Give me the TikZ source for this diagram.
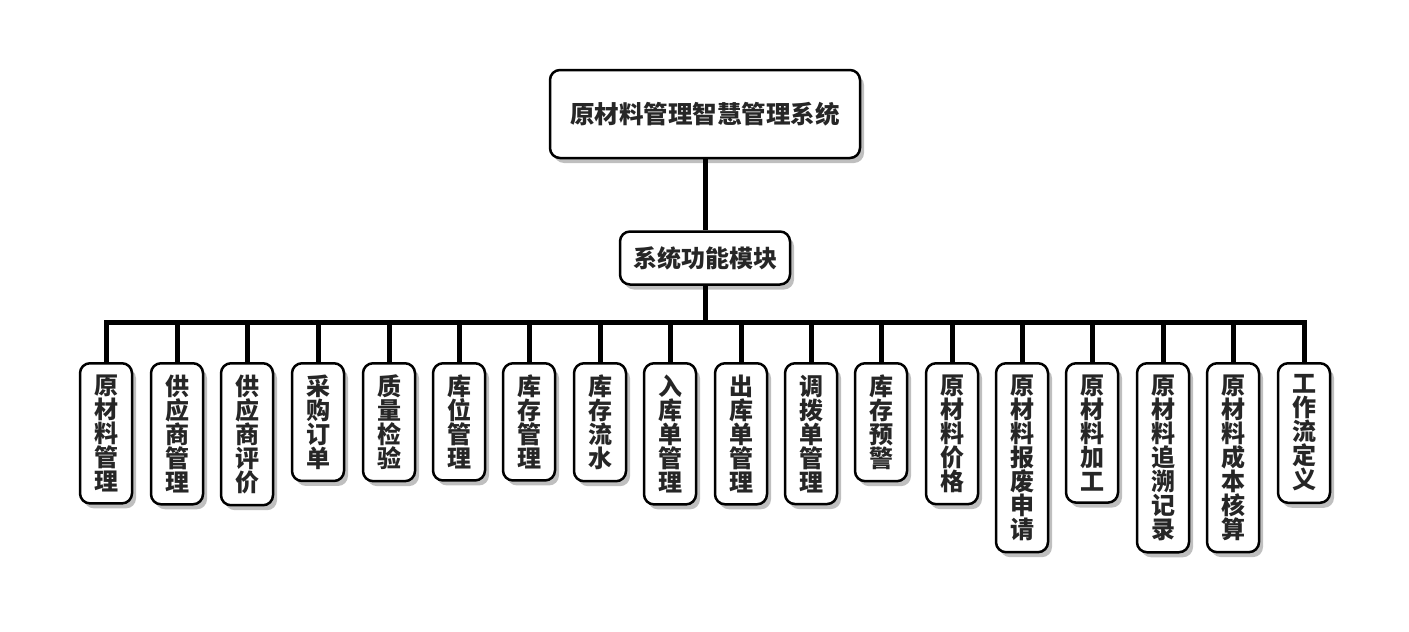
\documentclass[tikz,border=0pt]{standalone}
\usepackage{fontspec}
\newfontfamily\cjk{Noto Sans CJK SC}
\usetikzlibrary{positioning, calc, shadows}
\tikzset{
  rootbox/.style={rectangle, rounded corners=10pt, minimum width=310pt, minimum height=88pt, text centered, draw=black, line width=2.5pt, fill=white, font=\cjk\bfseries\fontsize{24.5}{28}\selectfont, text=black!85, drop shadow={shadow xshift=4pt, shadow yshift=-5pt, fill=black!50}},
  midbox/.style={rectangle, rounded corners=10pt, minimum width=170pt, minimum height=53pt, text centered, draw=black, line width=2.5pt, fill=white, font=\cjk\bfseries\fontsize{24}{28}\selectfont, text=black!85, drop shadow={shadow xshift=4pt, shadow yshift=-5pt, fill=black!50}},
  leaf/.style={rectangle, rounded corners=10pt, minimum width=52pt, inner xsep=0pt, inner ysep=11.5pt, align=center, anchor=north, draw=black, line width=2.5pt, fill=white, font=\cjk\bfseries\fontsize{24}{24}\selectfont, text=black!85, drop shadow={shadow xshift=4pt, shadow yshift=-5pt, fill=black!50}},
  link/.style={line width=5pt, draw=black}
}
\begin{document}
\begin{tikzpicture}[x=1pt, y=-1pt]
  \useasboundingbox (0,0) rectangle (1409,632);
  \coordinate (bus) at (705,322);
  \path (705,114) coordinate (rootc) (705,258) coordinate (midc);
  \node (root) [rootbox] at (rootc) {原材料管理智慧管理系统};
  \node (mod) [midbox] at (midc) {系统功能模块};

  \node (m1) [leaf] at (106,362) {原\\材\\料\\管\\理};
  \node (m2) [leaf] at (177,362) {供\\应\\商\\管\\理};
  \node (m3) [leaf] at (247,362) {供\\应\\商\\评\\价};
  \node (m4) [leaf] at (318,362) {采\\购\\订\\单};
  \node (m5) [leaf] at (389,362) {质\\量\\检\\验};
  \node (m6) [leaf] at (459,362) {库\\位\\管\\理};
  \node (m7) [leaf] at (529,362) {库\\存\\管\\理};
  \node (m8) [leaf] at (600,362) {库\\存\\流\\水};
  \node (m9) [leaf] at (670,362) {入\\库\\单\\管\\理};
  \node (m10) [leaf] at (741,362) {出\\库\\单\\管\\理};
  \node (m11) [leaf] at (811,362) {调\\拨\\单\\管\\理};
  \node (m12) [leaf] at (881,362) {库\\存\\预\\警};
  \node (m13) [leaf] at (952,362) {原\\材\\料\\价\\格};
  \node (m14) [leaf] at (1022,362) {原\\材\\料\\报\\废\\申\\请};
  \node (m15) [leaf] at (1092,362) {原\\材\\料\\加\\工};
  \node (m16) [leaf] at (1163,362) {原\\材\\料\\追\\溯\\记\\录};
  \node (m17) [leaf] at (1233,362) {原\\材\\料\\成\\本\\核\\算};
  \node (m18) [leaf] at (1304,362) {工\\作\\流\\定\\义};

  % trunk and bus
  \draw [link] (root) -- (mod);
  \draw [link] (mod) -- (bus);
  \draw [link] (m1.north) |- (bus) -| (m18.north);
  \foreach \i in {2,...,17}
    \draw [link] (bus -| m\i.north) -- (m\i.north);
\end{tikzpicture}
\end{document}
